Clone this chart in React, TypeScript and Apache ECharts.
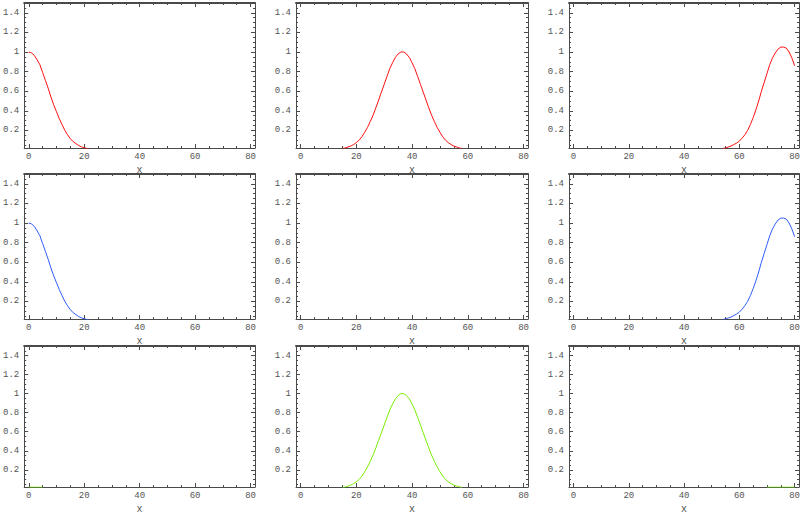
import React, { useEffect, useRef } from "react";
import * as echarts from "echarts";

// ---- tick values ----
const X_MAJOR = [0, 20, 40, 60, 80];
const X_MINOR = [5, 10, 15, 25, 30, 35, 45, 50, 55, 65, 70, 75];
const Y_MAJOR = [0.2, 0.4, 0.6, 0.8, 1, 1.2, 1.4];
const Y_MINOR = [0.05, 0.1, 0.15, 0.25, 0.3, 0.35, 0.45, 0.5, 0.55, 0.65, 0.7, 0.75, 0.85, 0.9, 0.95, 1.05, 1.1, 1.15, 1.25, 1.3, 1.35, 1.45];

// ---- series data ----
const leftX = [0, 1, 2, 3, 4, 5, 6, 7, 8, 9, 10, 11, 12, 13, 14, 15, 16, 17, 18, 19, 20, 21, 22];
const leftY = [1.0, 0.99, 0.965, 0.92, 0.87, 0.79, 0.71, 0.63, 0.54, 0.46, 0.39, 0.32, 0.26, 0.2, 0.155, 0.115, 0.085, 0.065, 0.045, 0.032, 0.022, 0.016, 0.01];

const midX = [15, 16, 17, 18, 19, 20, 21, 22, 23, 24, 25, 26, 27, 28, 29, 30, 31, 32, 33, 34, 35, 36, 37, 38, 39, 40, 41, 42, 43, 44, 45, 46, 47, 48, 49, 50, 51, 52, 53, 54, 55, 56, 57, 58];
const midY = [0.015, 0.02, 0.03, 0.04, 0.055, 0.075, 0.1, 0.135, 0.18, 0.23, 0.29, 0.355, 0.43, 0.51, 0.59, 0.67, 0.75, 0.83, 0.89, 0.945, 0.98, 1.0, 1.0, 0.98, 0.945, 0.89, 0.83, 0.75, 0.67, 0.59, 0.51, 0.43, 0.355, 0.29, 0.23, 0.18, 0.135, 0.1, 0.075, 0.055, 0.04, 0.03, 0.02, 0.015];

const rightX = [54, 55, 56, 57, 58, 59, 60, 61, 62, 63, 64, 65, 66, 67, 68, 69, 70, 71, 72, 73, 74, 75, 76, 77, 78, 79, 80];
const rightY = [0.015, 0.02, 0.03, 0.04, 0.055, 0.07, 0.09, 0.12, 0.155, 0.2, 0.26, 0.33, 0.41, 0.5, 0.6, 0.69, 0.78, 0.87, 0.94, 0.99, 1.03, 1.05, 1.05, 1.04, 1.0, 0.94, 0.86];

const flatLeftX = [0, 1, 2, 3, 4, 5];
const flatLeftY = [0.018, 0.018, 0.018, 0.018, 0.018, 0.018];
const flatRightX = [70, 72, 74, 76, 78, 80];
const flatRightY = [0.018, 0.018, 0.018, 0.018, 0.018, 0.018];

const RED = "#ff1010";
const BLUE = "#2f5cff";
const GREEN = "#78ee00";

type Curve = { x: number[]; y: number[]; color: string };
const panels: Curve[][] = [
  [{ x: leftX, y: leftY, color: RED }],
  [{ x: midX, y: midY, color: RED }],
  [{ x: rightX, y: rightY, color: RED }],
  [{ x: leftX, y: leftY, color: BLUE }],
  [],
  [{ x: rightX, y: rightY, color: BLUE }],
  [{ x: flatLeftX, y: flatLeftY, color: GREEN }],
  [{ x: midX, y: midY, color: GREEN }],
  [{ x: flatRightX, y: flatRightY, color: GREEN }],
];

const X_MIN = -1.65;
const X_MAX = 81.6;
const Y_MIN = 0.02;
const Y_MAX = 1.5;

export default function App() {
  const ref = useRef<HTMLDivElement>(null);
  useEffect(() => {
    if (!ref.current) return;
    const chart = echarts.init(ref.current, null, { renderer: "svg" });
    const FRAME = "#4a4a4a";
    const FONT = "Liberation Mono";
    const colLeft = [23, 296, 569];
    const rowTop = [3, 174, 346];
    const W = 232;
    const H = 145;
    const grids: any[] = [];
    const xAxes: any[] = [];
    const yAxes: any[] = [];
    const series: any[] = [];
    const labelStyle = { fontFamily: FONT, fontSize: 9, color: "#555" };
    panels.forEach((curves, g) => {
      const r = Math.floor(g / 3);
      const c = g % 3;
      grids.push({ left: colLeft[c], top: rowTop[r], width: W, height: H, show: false });
      const baseX = {
        type: "value",
        gridIndex: g,
        min: X_MIN,
        max: X_MAX,
        splitLine: { show: false },
      };
      const baseY = {
        type: "value",
        gridIndex: g,
        min: Y_MIN,
        max: Y_MAX,
        splitLine: { show: false },
      };
      xAxes.push({
        ...baseX,
        position: "bottom",
        axisLine: { show: true, onZero: false, lineStyle: { color: FRAME, width: 1 } },
        axisTick: { show: true, inside: true, length: 4, customValues: X_MAJOR, lineStyle: { color: FRAME } },
        axisLabel: { show: true, customValues: X_MAJOR, margin: 4, ...labelStyle },
        name: "x",
        nameLocation: "middle",
        nameGap: 17,
        nameTextStyle: { fontFamily: FONT, fontSize: 10, color: "#555" },
      });
      xAxes.push({
        ...baseX,
        position: "bottom",
        axisLine: { show: false, onZero: false },
        axisTick: { show: true, inside: true, length: 2, customValues: X_MINOR, lineStyle: { color: FRAME } },
        axisLabel: { show: false },
      });
      xAxes.push({
        ...baseX,
        position: "top",
        axisLine: { show: true, onZero: false, lineStyle: { color: FRAME, width: 2 } },
        axisTick: { show: true, inside: true, length: 4, customValues: X_MAJOR, lineStyle: { color: FRAME } },
        axisLabel: { show: false },
      });
      xAxes.push({
        ...baseX,
        position: "top",
        axisLine: { show: false, onZero: false },
        axisTick: { show: true, inside: true, length: 2, customValues: X_MINOR, lineStyle: { color: FRAME } },
        axisLabel: { show: false },
      });
      yAxes.push({
        ...baseY,
        position: "left",
        axisLine: { show: true, onZero: false, lineStyle: { color: FRAME, width: 1 } },
        axisTick: { show: true, inside: true, length: 4, customValues: Y_MAJOR, lineStyle: { color: FRAME } },
        axisLabel: { show: true, customValues: Y_MAJOR, margin: 5, ...labelStyle },
      });
      yAxes.push({
        ...baseY,
        position: "left",
        axisLine: { show: false, onZero: false },
        axisTick: { show: true, inside: true, length: 2, customValues: Y_MINOR, lineStyle: { color: FRAME } },
        axisLabel: { show: false },
      });
      yAxes.push({
        ...baseY,
        position: "right",
        axisLine: { show: true, onZero: false, lineStyle: { color: FRAME, width: 1 } },
        axisTick: { show: true, inside: true, length: 4, customValues: Y_MAJOR, lineStyle: { color: FRAME } },
        axisLabel: { show: false },
      });
      yAxes.push({
        ...baseY,
        position: "right",
        axisLine: { show: false, onZero: false },
        axisTick: { show: true, inside: true, length: 2, customValues: Y_MINOR, lineStyle: { color: FRAME } },
        axisLabel: { show: false },
      });
      curves.forEach((cv) => {
        series.push({
          type: "line",
          xAxisIndex: g * 4,
          yAxisIndex: g * 4,
          data: cv.x.map((xv, i) => [xv, cv.y[i]]),
          symbol: "none",
          showSymbol: false,
          silent: true,
          lineStyle: { color: cv.color, width: 1 },
          itemStyle: { color: cv.color },
        });
      });
    });
    chart.setOption({
      animation: false,
      backgroundColor: "#ffffff",
      grid: grids,
      xAxis: xAxes,
      yAxis: yAxes,
      series,
    });
    return () => chart.dispose();
  }, []);
  return (
    <div
      ref={ref}
      style={{ position: "fixed", left: 0, top: 0, width: 803, height: 515, background: "#fff" }}
    />
  );
}
